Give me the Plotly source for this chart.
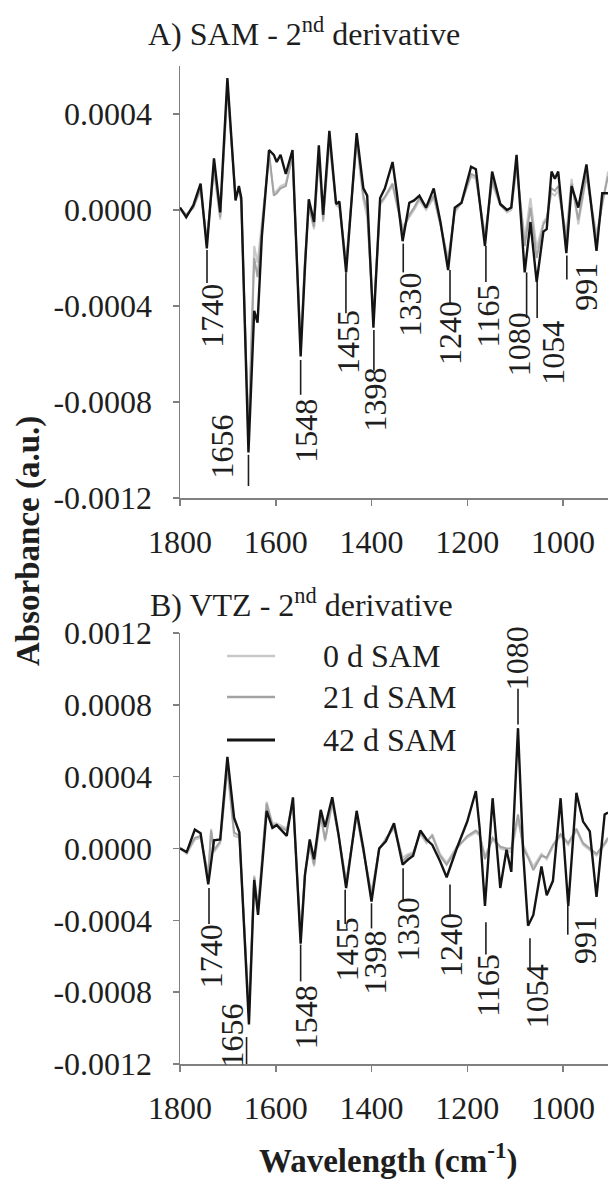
import plotly.graph_objects as go

W, H = 608, 1183
FONT = "Liberation Serif, Times New Roman, serif"
TXT = "#1e1e1e"

# ---------------- data (second-derivative values in units of 1e-4 a.u.) ----------------
A_wn = [1800, 1787, 1772, 1757, 1744, 1729, 1716, 1701, 1684, 1677, 1672, 1657, 1645, 1638, 1629,
        1614, 1604, 1598, 1590, 1579, 1565, 1548, 1539, 1531, 1520, 1510, 1501, 1488, 1474, 1467,
        1453, 1431, 1417, 1409, 1396, 1382, 1372, 1356, 1347, 1335, 1321, 1311, 1300, 1286, 1270,
        1256, 1240, 1226, 1212, 1192, 1182, 1163, 1148, 1131, 1117, 1108, 1097, 1080, 1068, 1055,
        1041, 1034, 1024, 1017, 1010, 993, 982, 968, 951, 930, 918, 906]
A_42d = [0.1, -0.3, 0.2, 1.1, -1.6, 2.15, -0.1, 5.5, 0.4, 1.0, 0.5, -10.1, -4.2, -4.7, -1.1,
         2.5, 2.3, 2.0, 2.3, 1.5, 2.5, -6.1, -2.4, 0.45, -0.5, 2.7, -0.2, 3.3, 0.25, 0.35,
         -2.6, 3.2, 0.9, 0.6, -4.9, 0.5, 0.9, 2.0, 0.7, -1.3, 0.3, 0.4, 0.6, 0.1, 0.9,
         -0.5, -2.5, 0.1, 0.3, 1.8, 1.7, -1.5, 1.6, 0.25, 0.0, 0.1, 2.3, -2.6, -0.5, -3.0,
         -0.9, -0.8, 1.6, 1.3, 1.6, -1.8, 1.0, 0.1, 1.9, -1.7, 0.7, 0.7]
A_21d = [0.1, -0.2, 0.1, 0.9, -1.3, 1.8, -0.3, 5.2, 0.5, 0.9, 0.4, -9.6, -2.0, -2.8, -0.8,
         2.4, 0.6, 0.7, 0.9, 1.0, 2.3, -5.8, -2.2, 0.2, -0.7, 2.4, -0.4, 3.0, 0.3, 0.2,
         -2.3, 3.0, 0.6, 0.0, -4.6, 0.3, 0.55, 1.1, 0.3, -0.9, -0.2, 0.1, 0.5, 0.1, 0.6,
         -0.6, -2.2, 0.0, 0.3, 1.5, 1.4, -1.2, 1.25, 0.2, 0.0, 0.1, 1.9, -1.5, 0.1, -2.0,
         -0.6, -0.4, 0.9, 0.8, 1.0, -1.2, 1.1, -0.4, 1.5, -1.3, 0.3, 1.4]
A_0d = [0.0, -0.2, 0.15, 0.8, -1.2, 1.6, -0.4, 5.0, 0.6, 0.8, 0.3, -9.3, -1.5, -2.2, -0.5,
        2.2, 0.7, 0.8, 1.0, 1.1, 2.2, -5.6, -2.0, 0.1, -0.8, 2.2, -0.5, 2.8, 0.2, 0.1,
        -2.1, 2.8, 0.4, -0.3, -4.4, 0.2, 0.5, 1.0, 0.2, -0.7, -0.3, 0.0, 0.4, 0.0, 0.5,
        -0.6, -2.0, -0.1, 0.3, 1.4, 1.3, -1.0, 1.1, 0.2, -0.1, 0.0, 1.7, -1.2, 0.5, -1.6,
        -0.5, -0.3, 0.7, 0.6, 0.8, -1.0, 1.3, -0.6, 1.4, -1.0, 0.2, 1.6]

B_wn = [1800, 1786, 1769, 1757, 1741, 1735, 1729, 1716, 1701, 1687, 1676, 1656, 1645, 1637, 1619,
        1607, 1598, 1577, 1564, 1548, 1539, 1529, 1520, 1506, 1497, 1482, 1469, 1453, 1431, 1417,
        1400, 1384, 1370, 1353, 1344, 1335, 1323, 1313, 1298, 1285, 1273, 1257, 1243, 1222, 1200,
        1182, 1174, 1163, 1147, 1131, 1118, 1108, 1094, 1083, 1073, 1062, 1045, 1034, 1021, 1005,
        989, 972, 958, 944, 930, 913, 906]
B_42d = [0.0, -0.2, 1.05, 0.85, -2.0, -0.6, 0.45, 0.5, 5.1, 1.7, 0.9, -9.8, -1.75, -3.7, 2.1,
         1.15, 1.3, 0.7, 2.85, -5.3, -1.5, 0.5, -0.6, 2.15, 1.2, 2.85, 0.8, -2.2, 2.1, 0.0,
         -2.95, 0.0, 0.4, 1.4, 0.2, -0.9, -0.6, -0.4, 1.0, 0.5, 0.2, -0.7, -1.6, 0.0, 1.5,
         3.2, 1.1, -3.2, 2.8, -2.2, -0.07, -1.3, 6.7, -0.35, -4.3, -3.7, -1.0, -2.6, -1.8, 2.8,
         -3.2, 3.1, 1.5, 0.95, -2.7, 1.9, 2.0]
B_21d = [0.05, -0.2, 0.6, 0.7, -1.6, 1.0, -0.1, 0.4, 4.6, 0.9, 0.7, -9.3, -1.6, -3.4, 2.5,
         1.3, 1.3, 1.0, 2.6, -5.0, -1.4, 0.2, -0.9, 1.9, 0.5, 2.6, 0.7, -1.9, 1.9, -0.1,
         -2.6, 0.0, 0.5, 1.2, 0.3, -0.7, -0.4, -0.3, 0.9, 0.4, 0.7, -0.4, -0.9, 0.0, 0.7,
         1.0, 0.8, -0.6, 0.6, 0.1, 0.0, 0.0, 1.9, 0.0, -0.5, -1.2, -0.4, -0.5, 0.2, 0.8,
         0.3, 1.1, 0.3, 0.0, -0.3, 0.3, 0.6]
B_0d = [0.0, -0.3, 0.5, 0.6, -1.4, 1.1, -0.2, 0.3, 4.4, 0.7, 0.6, -9.0, -1.5, -3.2, 2.6,
        1.4, 1.4, 1.1, 2.5, -4.8, -1.3, 0.1, -1.0, 1.8, 0.4, 2.5, 0.8, -1.8, 1.8, -0.2,
        -2.4, -0.1, 0.6, 1.1, 0.4, -0.5, -0.3, -0.2, 0.8, 0.3, 0.8, -0.3, -0.8, 0.1, 0.6,
        0.9, 0.7, -0.4, 0.5, 0.0, -0.1, -0.2, 1.6, 0.2, -0.4, -1.0, -0.3, -0.6, 0.1, 0.7,
        0.2, 1.0, 0.2, -0.1, -0.4, 0.2, 0.5]

SERIES = ["0 d SAM", "21 d SAM", "42 d SAM"]
COLORS = ["#c9c9c9", "#a3a3a3", "#141414"]
WIDTHS = [2.0, 2.0, 2.4]

X_TICKS = [1800, 1600, 1400, 1200, 1000]
A_YTICKS = [-0.0012, -0.0008, -0.0004, 0.0, 0.0004]
B_YTICKS = [-0.0012, -0.0008, -0.0004, 0.0, 0.0004, 0.0008, 0.0012]

# peak labels: text, leader line x / y-range, text centre (units 1e-4 for y)
A_peak_text = ["1740", "1656", "1548", "1455", "1398", "1330", "1240", "1165", "1080", "1054", "991"]
A_line_x = [1743.6, 1657, 1548, 1453.4, 1395, 1333.7, 1236, 1161, 1076, 1054, 992]
A_line_y0 = [-1.67, -10.2, -6.25, -2.6, -5.0, -1.4, -2.5, -1.5, -2.6, -3.0, -1.9]
A_line_y1 = [-3.04, -11.5, -7.7, -4.3, -6.7, -2.6, -3.9, -3.0, -4.5, -4.5, -2.9]
A_text_x = [1735, 1712, 1537, 1449, 1393, 1320, 1235, 1157, 1092, 1021, 952]
A_text_y = [-4.4, -9.85, -9.2, -5.5, -7.9, -3.95, -5.1, -4.4, -5.6, -5.95, -3.2]

B_peak_text = ["1740", "1656", "1548", "1455", "1398", "1330", "1240", "1165", "1080", "1054", "991"]
B_line_x = [1739.4, 1661, 1548, 1455, 1400, 1334, 1236, 1161, 1094, 1069, 990]
B_line_y0 = [-2.2, -10.5, -5.35, -2.3, -3.05, -1.1, -2.0, -4.1, 6.9, -5.0, -2.95]
B_line_y1 = [-4.2, -12.0, -7.4, -4.2, -4.45, -2.95, -3.7, -5.9, 8.9, -6.85, -4.8]
B_text_x = [1735, 1691, 1537, 1451, 1393, 1324, 1235, 1157, 1096, 1055, 954]
B_text_y = [-6.0, -10.4, -9.4, -5.6, -6.35, -4.5, -5.35, -7.6, 10.6, -8.25, -5.1]

SCALE = 1e-4


def px_x(p):
    return p / W


def px_y(p):
    return 1 - p / H


fig = go.Figure()

panels = [
    ("x", "y", A_wn, [A_0d, A_21d, A_42d]),
    ("x2", "y2", B_wn, [B_0d, B_21d, B_42d]),
]
for xa, ya, wn, series in panels:
    for name, vals, col, lw in zip(SERIES, series, COLORS, WIDTHS):
        fig.add_trace(go.Scatter(
            x=wn, y=[v * SCALE for v in vals], mode="lines", name=name,
            line=dict(color=col, width=lw), xaxis=xa, yaxis=ya, showlegend=False,
        ))

annotations = []
shapes = []

for xr, yr, txt, lx, ly0, ly1, tx, ty in [
    ("x", "y", A_peak_text, A_line_x, A_line_y0, A_line_y1, A_text_x, A_text_y),
    ("x2", "y2", B_peak_text, B_line_x, B_line_y0, B_line_y1, B_text_x, B_text_y),
]:
    for t, x0, y0, y1, xt, yt in zip(txt, lx, ly0, ly1, tx, ty):
        shapes.append(dict(type="line", xref=xr, yref=yr, x0=x0, x1=x0,
                           y0=y0 * SCALE, y1=y1 * SCALE,
                           line=dict(color=TXT, width=1.6)))
        annotations.append(dict(xref=xr, yref=yr, x=xt, y=yt * SCALE, text=t,
                                textangle=-90, showarrow=False, xanchor="center",
                                yanchor="middle", font=dict(family=FONT, size=32, color=TXT)))

# panel titles
annotations.append(dict(xref="paper", yref="paper", x=px_x(304), y=px_y(32),
                        text="A) SAM - 2<sup>nd</sup> derivative", showarrow=False,
                        xanchor="center", yanchor="middle",
                        font=dict(family=FONT, size=32, color=TXT)))
annotations.append(dict(xref="paper", yref="paper", x=px_x(301), y=px_y(603),
                        text="B) VTZ - 2<sup>nd</sup> derivative", showarrow=False,
                        xanchor="center", yanchor="middle",
                        font=dict(family=FONT, size=32, color=TXT)))
# axis titles
annotations.append(dict(xref="paper", yref="paper", x=px_x(28), y=px_y(541),
                        text="<b>Absorbance (a.u.)</b>", textangle=-90, showarrow=False,
                        xanchor="center", yanchor="middle",
                        font=dict(family=FONT, size=33, color=TXT)))
annotations.append(dict(xref="paper", yref="paper", x=px_x(388), y=px_y(1158),
                        text="<b>Wavelength (cm<sup>-1</sup>)</b>", showarrow=False,
                        xanchor="center", yanchor="middle",
                        font=dict(family=FONT, size=33, color=TXT)))

# legend (drawn manually inside panel B)
for i, (name, col, lw) in enumerate(zip(SERIES, COLORS, WIDTHS)):
    yy = [656, 697, 740][i]
    shapes.append(dict(type="line", xref="paper", yref="paper",
                       x0=px_x(227), x1=px_x(275), y0=px_y(yy), y1=px_y(yy),
                       line=dict(color=col, width=lw + 0.6)))
    annotations.append(dict(xref="paper", yref="paper", x=px_x(321), y=px_y(yy),
                            text=name, showarrow=False, xanchor="left", yanchor="middle",
                            font=dict(family=FONT, size=32, color=TXT)))

axis_common = dict(showgrid=False, zeroline=False, showline=True, linecolor="#808080",
                   linewidth=1.5, ticks="outside", ticklen=6, tickcolor="#808080",
                   tickwidth=1.5, automargin=False,
                   tickfont=dict(family=FONT, size=32, color=TXT))

xdom = [px_x(180), 1.0]
fig.update_layout(
    width=W, height=H,
    margin=dict(l=0, r=0, t=0, b=0, pad=0, autoexpand=False),
    paper_bgcolor="white", plot_bgcolor="white",
    showlegend=False,
    xaxis=dict(domain=xdom, range=[1800, 906], anchor="y", tickvals=X_TICKS,
               ticktext=[str(v) for v in X_TICKS], ticklabelstandoff=9, **axis_common),
    yaxis=dict(domain=[px_y(498), px_y(66)], range=[-0.0012, 0.0006], anchor="x",
               tickvals=A_YTICKS, ticktext=[f"{v:.4f}" for v in A_YTICKS],
               ticklabelstandoff=14, **axis_common),
    xaxis2=dict(domain=xdom, range=[1800, 906], anchor="y2", tickvals=X_TICKS,
                ticktext=[str(v) for v in X_TICKS], ticklabelstandoff=9, **axis_common),
    yaxis2=dict(domain=[px_y(1064), px_y(633)], range=[-0.0012, 0.0012], anchor="x2",
                tickvals=B_YTICKS, ticktext=[f"{v:.4f}" for v in B_YTICKS],
                ticklabelstandoff=14, **axis_common),
    annotations=annotations,
    shapes=shapes,
)

fig.write_html("out.html",
               config={"displayModeBar": False, "staticPlot": True},
               post_script="document.body.style.margin='0px';document.body.style.padding='0px';")
